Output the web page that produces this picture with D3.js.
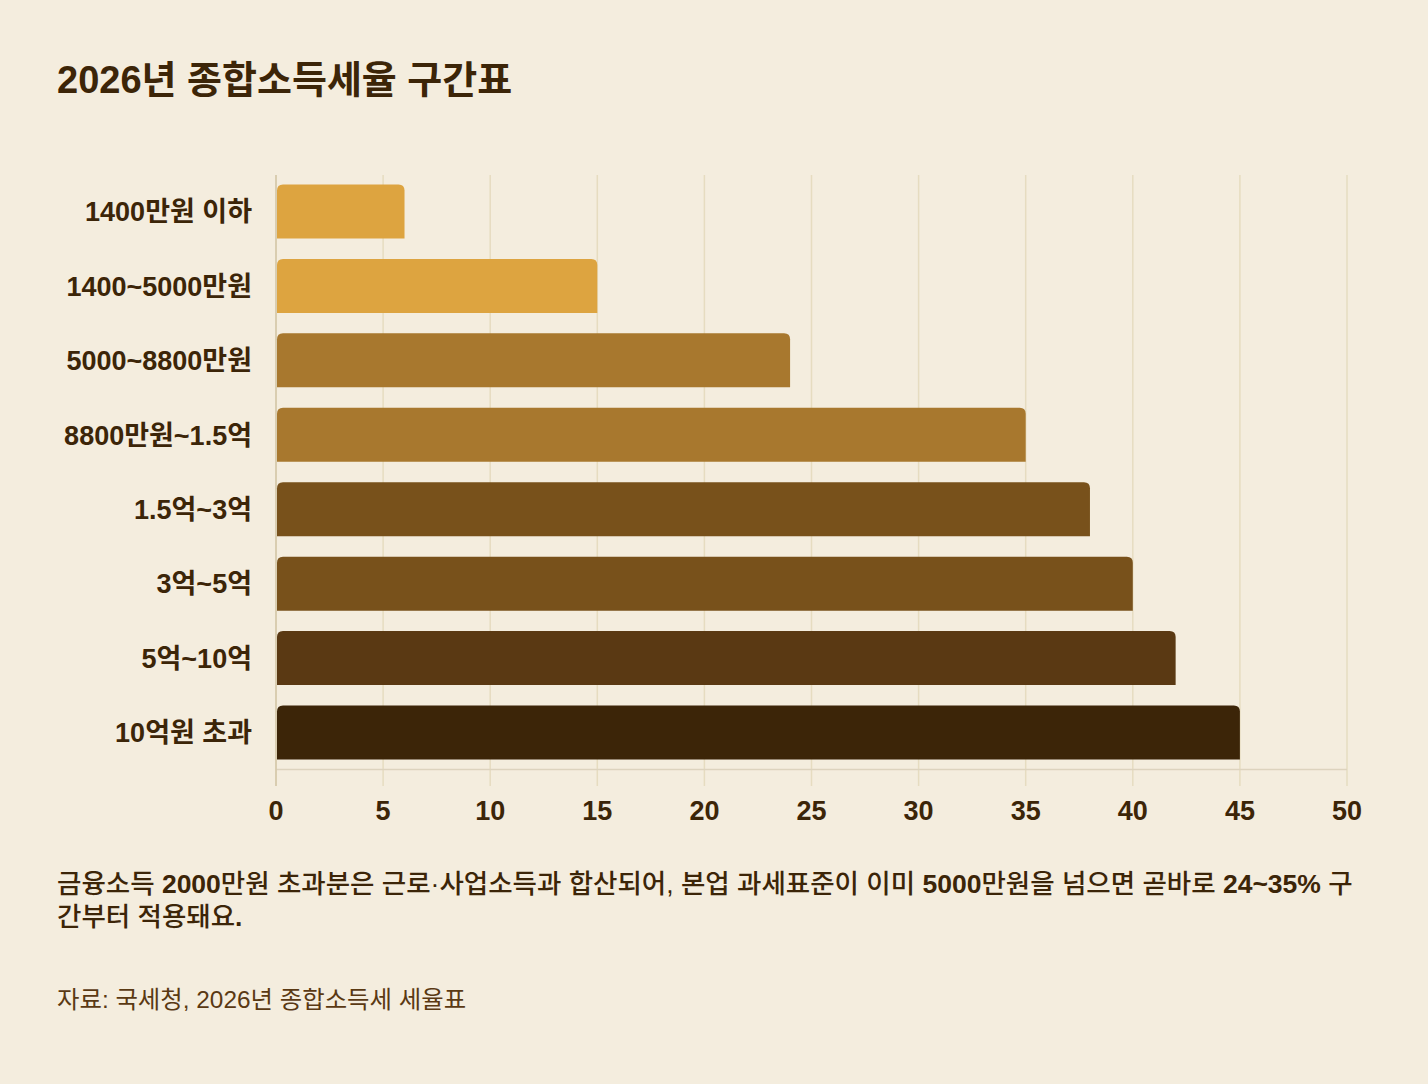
<!DOCTYPE html>
<html><head><meta charset="utf-8">
<script src="https://cdn.jsdelivr.net/npm/d3@7"></script>
<style>
html,body{margin:0;padding:0;background:#F4EDDE;}
svg{display:block;font-family:"Liberation Sans","Noto Sans CJK KR",sans-serif;}
</style></head>
<body><svg id="c" width="1428" height="1084"></svg>
<script>
const categories = ["1400만원 이하","1400~5000만원","5000~8800만원","8800만원~1.5억","1.5억~3억","3억~5억","5억~10억","10억원 초과"];
const rates = [6, 15, 24, 35, 38, 40, 42, 45];
const barColors = ["#DDA440","#DDA440","#A8782E","#A8782E","#78511B","#78511B","#5A3913","#3C2508"];
const xTicks = [0,5,10,15,20,25,30,35,40,45,50];
const title = "2026년 종합소득세율 구간표";
const noteLines = ["금융소득 2000만원 초과분은 근로·사업소득과 합산되어, 본업 과세표준이 이미 5000만원을 넘으면 곧바로 24~35% 구","간부터 적용돼요."];
const source = "자료: 국세청, 2026년 종합소득세 세율표";

const svg = d3.select("#c");
const ink = "#3C2508";
svg.append("rect").attr("width",1428).attr("height",1084).attr("fill","#F4EDDE");

const x = d3.scaleLinear().domain([0,50]).range([276,1347]);
const y = d3.scaleBand().domain(categories).range([175,769]).paddingInner(0.274).paddingOuter(0.127);

svg.append("text").attr("x",57).attr("y",93).attr("fill",ink)
  .attr("font-size",38).attr("font-weight",700).text(title);

svg.append("g").selectAll("line").data(xTicks).join("line")
  .attr("x1",d=>x(d)).attr("x2",d=>x(d)).attr("y1",175).attr("y2",786)
  .attr("stroke","#E6DCC0").attr("stroke-width",1.5);
svg.append("line").attr("x1",276).attr("x2",1347).attr("y1",769.5).attr("y2",769.5)
  .attr("stroke","#DDD3BE").attr("stroke-width",1.5);
svg.append("line").attr("x1",276).attr("x2",276).attr("y1",175).attr("y2",786)
  .attr("stroke","#D3C6A8").attr("stroke-width",1.5);

const r = 6;
function barPath(x0, x1, y0, h){
  return `M${x0},${y0+h}V${y0+r}Q${x0},${y0} ${x0+r},${y0}H${x1-r}Q${x1},${y0} ${x1},${y0+r}V${y0+h}Z`;
}
svg.append("g").selectAll("path").data(rates).join("path")
  .attr("d",(d,i)=>barPath(x(0)+1, x(d), y(categories[i]), y.bandwidth()))
  .attr("fill",(d,i)=>barColors[i]);

svg.append("g").selectAll("text").data(categories).join("text")
  .attr("x",252).attr("y",d=>y(d)+y.bandwidth()/2).attr("dy","0.36em")
  .attr("text-anchor","end").attr("fill",ink).attr("font-size",27).attr("font-weight",700)
  .text(d=>d);

svg.append("g").selectAll("text").data(xTicks).join("text")
  .attr("x",d=>x(d)).attr("y",810).attr("dy","0.36em")
  .attr("text-anchor","middle").attr("fill",ink).attr("font-size",27).attr("font-weight",700)
  .text(d=>d);

const notes = svg.append("g").selectAll("text").data(noteLines).join("text")
  .attr("x",57).attr("y",(d,i)=>893+i*33)
  .attr("fill",ink).attr("font-size",26.5).attr("font-weight",500);
notes.each(function(d){
  const t = d3.select(this);
  d.split(/([0-9~%.]+)/).filter(s=>s.length).forEach(s=>{
    t.append("tspan").attr("font-weight", /^[0-9~%.]+$/.test(s) ? 700 : 500).text(s);
  });
});

svg.append("text").attr("x",57).attr("y",1008).attr("fill","#5A3913")
  .attr("font-size",24.4).attr("font-weight",400).text(source);
</script></body></html>
